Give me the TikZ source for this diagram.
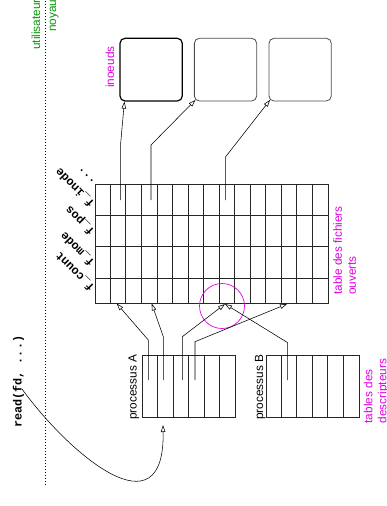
\documentclass[tikz,border=0pt]{standalone}
\usepackage{fontspec}
\setmainfont{Liberation Sans}
\setmonofont{Liberation Mono}
\usetikzlibrary{arrows.meta,calc}
\definecolor{notecol}{RGB}{225,0,225}
\definecolor{zonecol}{RGB}{0,155,0}
\begin{document}
\begin{tikzpicture}[x=1pt,y=-1pt,
  lbl/.style={inner sep=0pt, font=\fontsize{11.8}{14}\selectfont},
  notetext/.style={lbl, text=notecol},
  zonetext/.style={lbl, text=zonecol},
  upright/.style={rotate=90, anchor=base west},
  fieldname/.style={inner sep=0pt, font=\fontsize{11.8}{14}\selectfont\ttfamily\bfseries,
                    rotate=135, anchor=base west},
  tabgrid/.style={draw=black!85, line width=0.7pt},
  cellbox/.style={tabgrid, inner sep=0pt, minimum height=62pt, minimum width=92.8pt},
  inodebox/.style={draw=black!70, line width=0.8pt, rounded corners=5pt,
                   minimum width=62.3pt, minimum height=62.7pt, inner sep=0pt},
  ptr/.style={draw, line width=0.55pt, -{Triangle[open, length=7pt, width=4.5pt]}},
]
\useasboundingbox (0,0) rectangle (387,506);

% user / kernel boundary
\draw[line width=0.7pt, dash pattern=on 0.8pt off 2.2pt] (45,1) -- (45,485);
\node[zonetext, upright] (user) at (40,50) {utilisateur};
\node[zonetext, upright] (kern) at (56,32) {noyau};

% system call
\node[inner sep=0pt, font=\fontsize{11.8}{14}\selectfont\ttfamily\bfseries, upright]
  (call) at (21.5,428) {read(fd, ...)};

% inodes
\node[inodebox, draw=black, line width=1.2pt] (ino1) at (151.15,69.65) {};
\node[inodebox] (ino2) at (225.5,69.65) {};
\node[inodebox] (ino3) at (300.15,69.65) {};
\node[notetext, upright] (inolbl) at (114,88) {inoeuds};

% open file table
\node[tabgrid, draw, inner sep=0pt, minimum width=233.3pt, minimum height=119pt]
  (tab) at (211.65,243.8) {};
\foreach \i in {1,...,14}
  \draw[tabgrid] ($(tab.north west)+(\i*15.553,0)$) -- ($(tab.south west)+(\i*15.553,0)$);
\foreach \y in {215.7,246.7,278.3}
  \draw[tabgrid] (tab.west |- 0,\y) -- (tab.east |- 0,\y);
\node[notetext, rotate=90, anchor=north west, align=left] (tablbl) at (333,295)
  {table des fichiers\\ouverts};

% field names
\node[fieldname] (fmore) at (95,183) {...};
\node[fieldname] (finode) at (95,202.5) {f\_inode};
\node[fieldname] (fpos) at (95,230.5) {f\_pos};
\node[fieldname] (fmode) at (95,261.5) {f\_mode};
\node[fieldname] (fcount) at (95,286.5) {f\_count};

% descriptor tables
\node[cellbox, draw] (procA) at (188.9,386.5) {};
\node[cellbox, draw] (procB) at (312.6,386.5) {};
\foreach \p in {procA,procB}
  \foreach \i in {1,...,5}
    \draw[tabgrid] ($(\p.north west)+(\i*15.467,0)$) -- ($(\p.south west)+(\i*15.467,0)$);
\node[lbl, upright] (procAlbl) at (136.6,420) {processus A};
\node[lbl, upright] (procBlbl) at (263,420) {processus B};
\node[notetext, rotate=90, anchor=north west, align=left] (desclbl) at (363.5,423.5)
  {tables des\\descripteurs};

% shared entry
\draw[notecol, line width=0.7pt] (222,306) circle[radius=22.5pt];

% table -> inodes
\coordinate (e1) at (120.7,200);  \coordinate (e1b) at (120.7,143);
\coordinate (e2) at (151,200);    \coordinate (e2b) at (151,145);
\coordinate (e3) at (225.7,200);  \coordinate (e3b) at (225.7,156.7);
\draw[ptr] (e1) -- (e1b) -- ($(ino1.south west)+(5,0)$);
\draw[ptr] (e2) -- (e2b) -- ($(ino2.south west)+(1.5,-1.5)$);
\draw[ptr] (e3) -- (e3b) -- ($(ino3.south west)+(1.5,-1.5)$);

% descriptors -> table
\coordinate (a1) at (148.3,380);  \coordinate (a1b) at (148.3,340);
\coordinate (a2) at (163.3,380);  \coordinate (a2b) at (163.3,336.7);
\coordinate (a3) at (182.3,380);  \coordinate (a3b) at (182.3,336.7);
\coordinate (a4) at (195,380);    \coordinate (a4b) at (195,341.7);
\coordinate (b2) at (287.7,380);  \coordinate (b2b) at (287.7,342.7);
\coordinate (t1) at (116.7,303.5);
\coordinate (t2) at (151.7,303.5);
\coordinate (t9) at (225,304);
\coordinate (t13) at (287,304);
\draw[ptr] (a1) -- (a1b) -- (t1);
\draw[ptr] (a2) -- (a2b) -- (t2);
\draw[ptr] (a3) -- (a3b) -- (t9);
\draw[ptr] (a4) -- (a4b) -- (t13);
\draw[ptr] (b2) -- (b2b) -- (t9);

% fd refers to process A's table
\coordinate (fd) at (22,389);
\coordinate (fdtip) at (163,425);
\draw[ptr] (fd) .. controls (70,455) and (165,535) .. (fdtip);
\end{tikzpicture}
\end{document}
